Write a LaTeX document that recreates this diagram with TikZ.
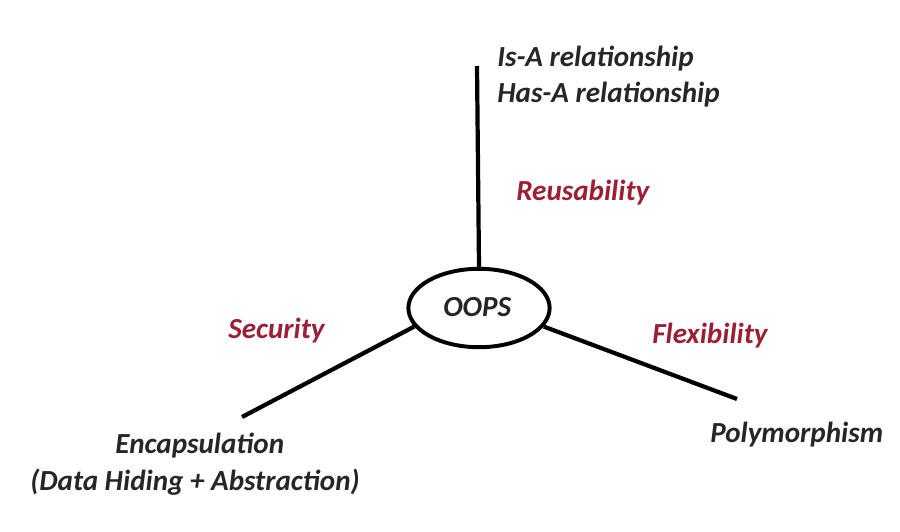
\documentclass[tikz,border=0pt]{standalone}
\usepackage{fontspec}
\setmainfont{Carlito}
\usetikzlibrary{shapes.geometric}
\definecolor{inkgray}{HTML}{262626}
\definecolor{maroon}{HTML}{9B2036}

\begin{document}
\begin{tikzpicture}[
  x=0.025cm, y=-0.025cm,
  label/.style={inner sep=0pt, anchor=base west, text=inkgray, font=\fontsize{20.7}{25}\selectfont\bfseries\itshape},
  benefit/.style={label, text=maroon},
  arm/.style={line width=3pt}
]
  \useasboundingbox (0,0) rectangle (900,532);

  \node[draw, ellipse, line width=2.8pt, minimum width=3.53cm, minimum height=1.96cm, inner sep=0pt] (oops) at (479,308) {};
  \node[label] (oopstext) at (443,316) {OOPS};

  \coordinate (topend) at (477,66);
  \coordinate (leftend) at (242,417);
  \coordinate (rightend) at (737,399);

  \node[label] (isa) at (497,67) {Is-A relationship};
  \node[label] (hasa) at (497,103) {Has-A relationship};
  \node[benefit] (reuse) at (516,200) {Reusability};
  \node[benefit] (secure) at (228,338) {Security};
  \node[benefit] (flex) at (652,343) {Flexibility};
  \node[label] (encap) at (115,453) {Encapsulation};
  \node[label] (hiding) at (30,490) {(Data Hiding + Abstraction)};
  \node[label] (poly) at (710,442) {Polymorphism};

  \draw[arm] (oops.north) -- (topend);
  \draw[arm] (oops.196) -- (leftend);
  \draw[arm] (oops.-16) -- (rightend);
\end{tikzpicture}
\end{document}
